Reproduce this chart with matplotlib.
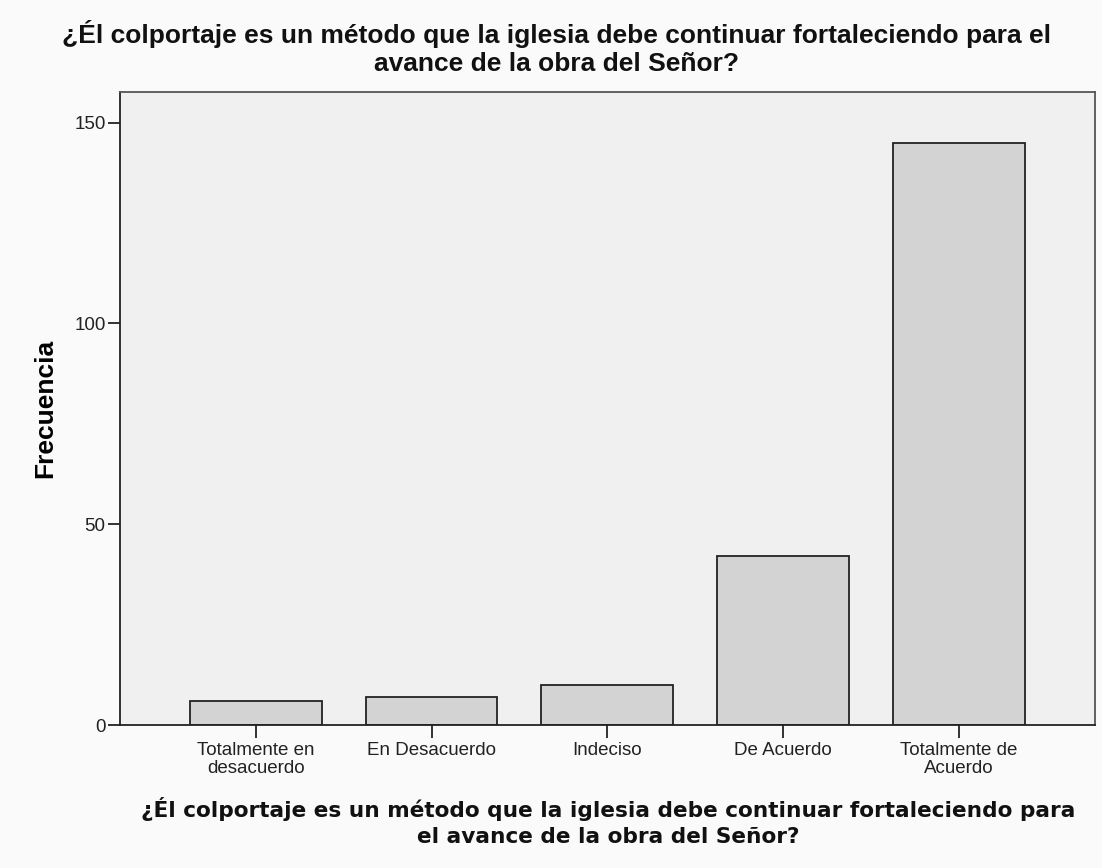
import matplotlib
matplotlib.use("Agg")
import matplotlib.pyplot as plt

categorias = ["Totalmente en\ndesacuerdo", "En Desacuerdo", "Indeciso",
              "De Acuerdo", "Totalmente de\nAcuerdo"]
frecuencias = [6, 7, 10, 42, 145]
yticks = [0, 50, 100, 150]

titulo = ("¿Él colportaje es un método que la iglesia debe continuar fortaleciendo para el\n"
          "avance de la obra del Señor?")
xlab1 = "¿Él colportaje es un método que la iglesia debe continuar fortaleciendo para"
xlab2 = "el avance de la obra del Señor?"

W, H = 1102, 868
fig = plt.figure(figsize=(W / 100, H / 100), dpi=100, facecolor="#fafafa")
ax = fig.add_axes([119.5 / W, 1 - 725 / H, (1095 - 119.5) / W, (725 - 91.7) / H])
ax.set_facecolor("#f0f0f0")

x = list(range(len(categorias)))
ax.bar(x, frecuencias, width=0.75, color="#d3d3d3", edgecolor="#222222", linewidth=1.3)

ax.set_xlim(-0.776, 4.776)
ax.set_ylim(0, 157.7)
ax.set_yticks(yticks)
ax.set_xticks(x)
ax.set_xticklabels(categorias, fontsize=13.5, family="Liberation Sans", linespacing=1.1)
ax.set_yticklabels([str(v) for v in yticks], fontsize=13.5, family="Liberation Sans")
ax.tick_params(axis="both", length=9, width=1.3, color="#222222", labelcolor="#222222")
ax.tick_params(axis="y", pad=1)
ax.tick_params(axis="x", pad=3)
for s in ax.spines.values():
    s.set_color("#222222")
    s.set_linewidth(1.3)
for s in ["top", "right"]:
    ax.spines[s].set_color("#555555")

ax.set_ylabel("Frecuencia", fontsize=19, fontweight="bold", family="Liberation Sans",
              labelpad=12)

# titulo arriba (una sola caja de texto, dos lineas centradas)
fig.text(557 / W, 1 - 71 / H, titulo, ha="center", va="baseline", ma="center",
         fontsize=19, fontweight="bold", family="Liberation Sans", color="#111111",
         linespacing=1.22)

# titulo del eje x
fig.text(608 / W, 1 - 817 / H, xlab1, ha="center", va="baseline", fontsize=15.6,
         fontweight="bold", family="DejaVu Sans", color="#111111")
fig.text(608 / W, 1 - 843 / H, xlab2, ha="center", va="baseline", fontsize=15.6,
         fontweight="bold", family="DejaVu Sans", color="#111111")

fig.savefig("out.png", dpi=100, facecolor=fig.get_facecolor())
